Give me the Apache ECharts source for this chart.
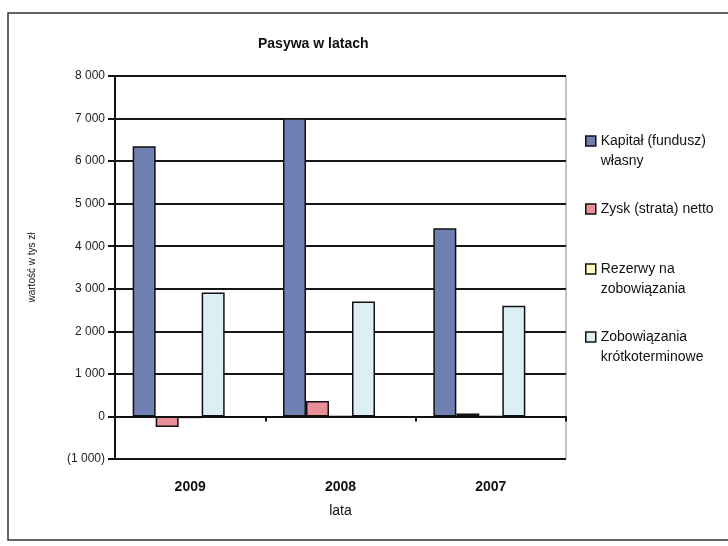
<!DOCTYPE html>
<html>
<head>
<meta charset="utf-8">
<script src="https://cdn.jsdelivr.net/npm/echarts@6/dist/echarts.min.js"></script>
<style>html,body{margin:0;padding:0;background:#fff;}#c{width:728px;height:546px;}</style>
</head>
<body>
<div id="c"></div>
<script>
const categories = ['2009', '2008', '2007'];
const seriesNames = ['Kapitał (fundusz)\nwłasny', 'Zysk (strata) netto', 'Rezerwy na\nzobowiązania', 'Zobowiązania\nkrótkoterminowe'];
const kapital = [6350, 7010, 4420];
const zysk = [-250, 360, 70];
const rezerwy = [-40, 0, 0];
const zobowiazania = [2910, 2700, 2600];
const emptySlot = [null, null, null];
const yMin = -1000, yMax = 8000, yStep = 1000;
const titleText = 'Pasywa w latach';
const xName = 'lata';
const yName = 'wartość w tys zł';

const colors = ['#7080b2', '#e98f98', '#ffffc4', '#dbeff5'];
const values = [kapital, zysk, rezerwy, zobowiazania];

function fmt(v) {
  const a = Math.abs(v);
  const s = String(a).replace(/\B(?=(\d{3})+(?!\d))/g, ' ');
  return v < 0 ? '(' + s + ')' : s;
}

const series = values.map((d, i) => ({
  name: seriesNames[i],
  type: 'bar',
  xAxisIndex: 0,
  data: d,
  barWidth: 23,
  barGap: '0%',
  itemStyle: { color: colors[i], borderColor: '#111', borderWidth: 1.5 },
  emphasis: { disabled: true }
}));
series.push({ name: 'pusta', type: 'bar', xAxisIndex: 0, data: emptySlot, barWidth: 23, barGap: '0%' });

const legendTops = [111, 199, 239, 307];
const legends = seriesNames.map((n, i) => ({
  data: [n],
  left: 585,
  top: legendTops[i],
  orient: 'vertical',
  padding: 0,
  itemWidth: 10,
  itemHeight: 10,
  icon: 'rect',
  selectedMode: false,
  itemStyle: { borderColor: '#111', borderWidth: 1.5 },
  formatter: name => name.indexOf('\n') >= 0 ? '\n' + name : name,
  textStyle: { fontFamily: 'Liberation Sans, Arial', fontSize: 14, color: '#111', lineHeight: 20 }
}));

const chart = echarts.init(document.getElementById('c'), null, { renderer: 'canvas' });
chart.setOption({
  animation: false,
  backgroundColor: '#fff',
  title: {
    text: titleText,
    left: 258,
    top: 37,
    padding: 0,
    textStyle: { fontFamily: 'Liberation Sans, Arial', fontSize: 14, fontWeight: 'bold', color: '#111' }
  },
  graphic: [{
    type: 'rect',
    shape: { x: 8, y: 13, width: 760, height: 527 },
    style: { fill: 'none', stroke: '#333', lineWidth: 1.5 },
    silent: true,
    z: -10
  }],
  legend: legends,
  grid: { left: 115, right: 162, top: 76, bottom: 87, show: true, borderColor: '#8a8a8a', borderWidth: 1 },
  xAxis: [{
    type: 'category',
    data: categories,
    position: 'bottom',
    axisLine: { show: false, onZero: false },
    axisTick: { show: false },
    axisLabel: { margin: 21, fontFamily: 'Liberation Sans, Arial', fontSize: 14, fontWeight: 'bold', color: '#111' },
    name: xName,
    nameLocation: 'middle',
    nameGap: 45,
    nameTextStyle: { fontFamily: 'Liberation Sans, Arial', fontSize: 14, color: '#111' },
    splitLine: { show: false }
  }, {
    type: 'category',
    data: categories,
    position: 'bottom',
    axisLine: { show: true, onZero: true, lineStyle: { color: '#111', width: 2 } },
    axisTick: { show: true, length: 5, lineStyle: { color: '#111', width: 2 } },
    axisLabel: { show: false },
    splitLine: { show: false }
  }],
  yAxis: {
    type: 'value',
    min: yMin,
    max: yMax,
    interval: yStep,
    axisLine: { show: true, lineStyle: { color: '#111', width: 2 } },
    axisTick: { show: true, length: 7, lineStyle: { color: '#111', width: 2 } },
    axisLabel: { margin: 10, fontFamily: 'Liberation Sans, Arial', fontSize: 12, color: '#222', formatter: fmt },
    splitLine: { show: true, lineStyle: { color: '#151515', width: 2 } },
    name: yName,
    nameLocation: 'middle',
    nameRotate: 90,
    nameGap: 78,
    nameTextStyle: { fontFamily: 'Liberation Sans, Arial', fontSize: 10, color: '#111' }
  },
  series: series
});
</script>
</body>
</html>
